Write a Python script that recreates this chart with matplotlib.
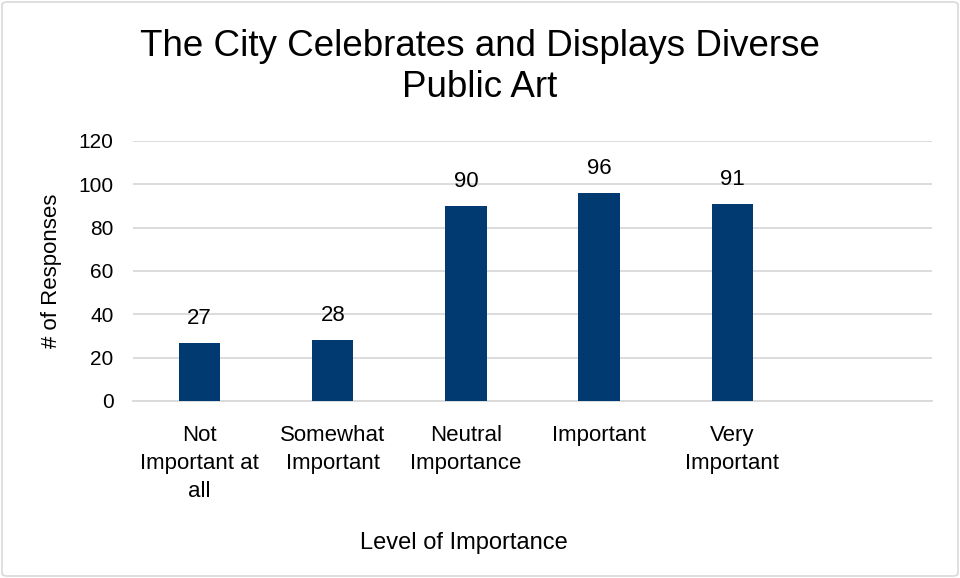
import matplotlib
matplotlib.use("Agg")
import matplotlib.pyplot as plt
from matplotlib.patches import FancyBboxPatch

categories = ["Not\nImportant at\nall", "Somewhat\nImportant", "Neutral\nImportance", "Important", "Very\nImportant"]
values = [27, 28, 90, 96, 91]
yticks = [0, 20, 40, 60, 80, 100, 120]

plt.rcParams['font.family'] = ['Liberation Sans', 'DejaVu Sans']

fig = plt.figure(figsize=(9.6, 5.78), dpi=100)
ax = fig.add_axes([133/960, 1-401/578, (932-133)/960, 260/578])

bar_color = "#003a70"
x = list(range(len(categories)))
bars = ax.bar(x, values, width=0.31, color=bar_color, zorder=3)
for xi, v in zip(x, values):
    ax.annotate(str(v), (xi, v), xytext=(0, 10), textcoords="offset points",
                ha="center", va="bottom", fontsize=16, color="#000000")

ax.set_xlim(-0.5, 5.5)
ax.set_ylim(0, 120)
ax.set_yticks(yticks)
ax.set_yticklabels([str(t) for t in yticks], fontsize=15)
ax.set_xticks(x)
ax.set_xticklabels(categories, fontsize=16, linespacing=1.45, va="top")
ax.tick_params(axis="y", length=0, pad=14)
ax.tick_params(axis="x", length=0, pad=17)
ax.grid(axis="y", color="#d9d9d9", linewidth=1.3, zorder=0)
for s in ["top", "right", "left"]:
    ax.spines[s].set_visible(False)
ax.spines["bottom"].set_color("#d9d9d9")
ax.spines["bottom"].set_linewidth(1.3)

fig.text(0.5, 1-67/578, "The City Celebrates and Displays Diverse\nPublic Art", ha="center", va="center",
         fontsize=26.5, linespacing=1.2)
fig.text(464/960, 1-543/578, "Level of Importance", ha="center", va="center", fontsize=17)
fig.text(52/960, 1-271/578, "# of Responses", ha="center", va="center", rotation=90, fontsize=16)

border = FancyBboxPatch((2/960, 2/578), 956/960, 574/578, boxstyle="round,pad=0,rounding_size=0.005",
                        transform=fig.transFigure, fill=False, edgecolor="#d9d9d9", linewidth=1.2)
fig.patches.append(border)

fig.savefig("out.png", dpi=100)
